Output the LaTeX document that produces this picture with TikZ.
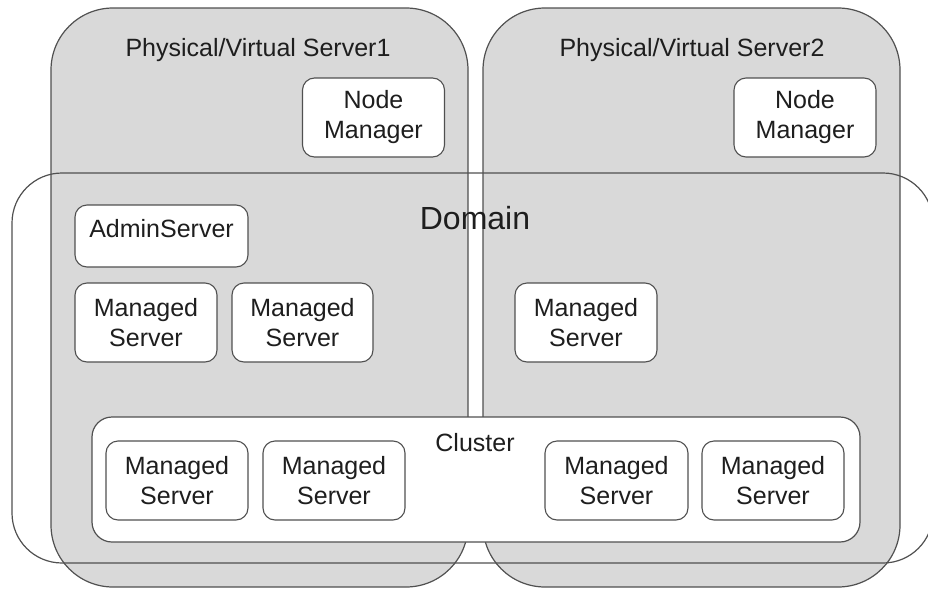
\documentclass[tikz,border=0pt]{standalone}
\usepackage{fontspec}
\setmainfont{Liberation Sans}
\definecolor{srvfill}{HTML}{D9D9D9}
\definecolor{edge}{HTML}{505050}
\definecolor{ink}{HTML}{1E1E1E}
\tikzset{
  server/.style={draw=edge, line width=1.2pt, fill=srvfill, rounded corners=62pt,
    minimum width=417pt, minimum height=579pt, inner sep=0pt},
  domainbox/.style={draw=edge, line width=1.2pt, rounded corners=50pt,
    minimum width=921pt, minimum height=390pt, inner sep=0pt},
  clusterbox/.style={draw=edge, line width=1.2pt, fill=white, rounded corners=20pt,
    minimum width=768pt, minimum height=125pt, inner sep=0pt},
  wbox/.style={draw=edge, line width=1.1pt, fill=white, rounded corners=12pt,
    minimum width=142pt, minimum height=79pt, inner sep=0pt, align=center,
    text=ink, font=\fontsize{25}{30}\selectfont},
  lbl/.style={text=ink, inner sep=0pt, font=\fontsize{25}{30}\selectfont},
}
\begin{document}
\begin{tikzpicture}[x=1pt,y=-1pt]
\useasboundingbox (0,0) rectangle (928,589);
% servers
\node[server] (srv1) at (259.5,297.5) {};
\node[server] (srv2) at (691.5,297.5) {};
% domain outline
\node[domainbox] (dom) at (472.5,368) {};
% titles
\node[lbl] (t1) at (258,50) {Physical/Virtual Server1};
\node[lbl] (t2) at (692,50) {Physical/Virtual Server2};
% node managers
\node[wbox] (nm1) at (373.5,117.5) {Node\\Manager};
\node[wbox] (nm2) at (805,117.5) {Node\\Manager};
% domain label
\node[text=ink, inner sep=0pt, font=\fontsize{32}{38}\selectfont] (dl) at (475,218) {Domain};
% admin server
\node[wbox, minimum width=173pt, minimum height=62pt] (admin) at (161.5,236) {};
\node[lbl] (admint) at ([yshift=7pt]admin.center) {AdminServer};
% managed servers in domain
\node[wbox] (ms1) at (146,322.5) {Managed\\Server};
\node[wbox, minimum width=141pt] (ms2) at (302.5,322.5) {Managed\\Server};
\node[wbox] (ms3) at (586,322.5) {Managed\\Server};
% cluster
\node[clusterbox] (cl) at (476,479.5) {};
\node[lbl] (clt) at (475,443) {Cluster};
\node[wbox] (cs1) at (177,480.5) {Managed\\Server};
\node[wbox] (cs2) at (334,480.5) {Managed\\Server};
\node[wbox, minimum width=143pt] (cs3) at (616.5,480.5) {Managed\\Server};
\node[wbox] (cs4) at (773,480.5) {Managed\\Server};
\end{tikzpicture}
\end{document}
